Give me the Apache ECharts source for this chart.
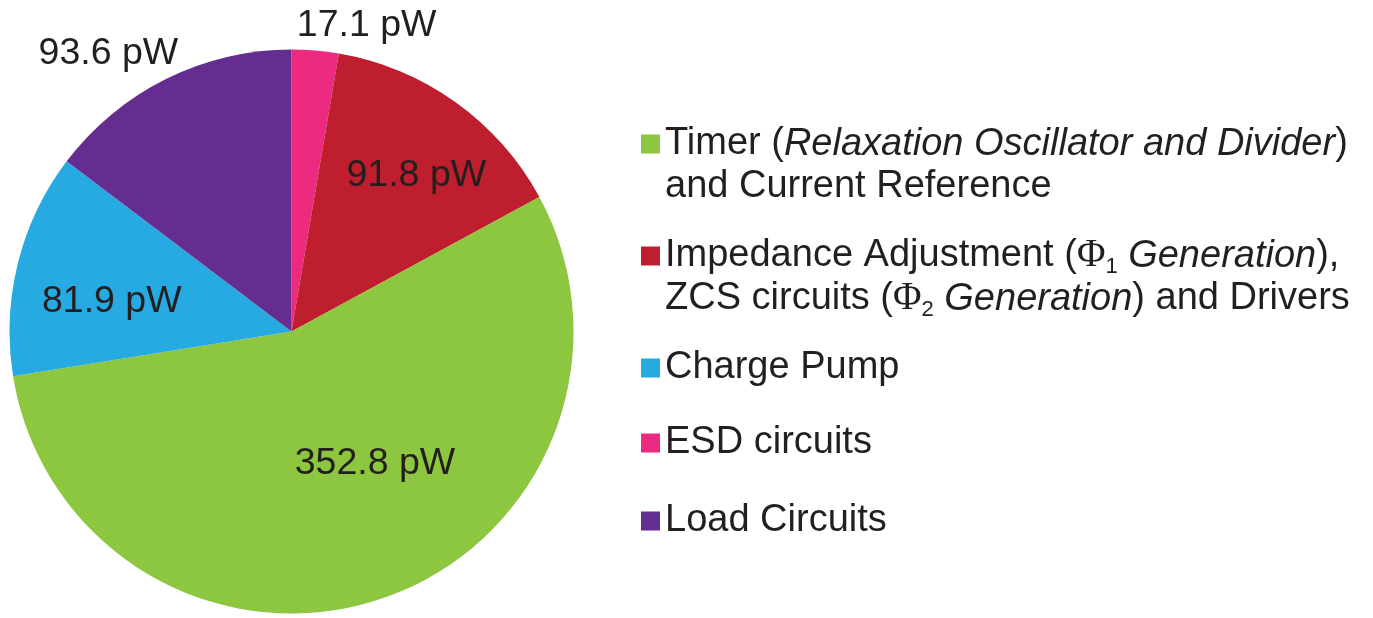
<!DOCTYPE html>
<html>
<head>
<meta charset="utf-8">
<script src="https://cdn.jsdelivr.net/npm/echarts@6/dist/echarts.min.js"></script>
<style>html,body{margin:0;padding:0;background:#ffffff}#chart{width:1373px;height:618px}</style>
</head>
<body>
<div id="chart"></div>
<script>
// ---- data ----
const sliceNames = ['ESD circuits', 'Impedance Adjustment', 'Timer', 'Charge Pump', 'Load Circuits'];
const sliceValues = [17.1, 91.8, 352.8, 81.9, 93.6];
const sliceUnit = 'pW';
const legendOrder = ['Timer', 'Impedance Adjustment', 'Charge Pump', 'ESD circuits', 'Load Circuits'];
const legendText = {
  'Timer': ['Timer ({i|Relaxation Oscillator and Divider})', 'and Current Reference'],
  'Impedance Adjustment': ['Impedance Adjustment ({phi|Φ}{sub|1} {i|Generation}),', 'ZCS circuits ({phi|Φ}{sub|2} {i|Generation}) and Drivers'],
  'Charge Pump': ['Charge Pump'],
  'ESD circuits': ['ESD circuits'],
  'Load Circuits': ['Load Circuits']
};

// ---- styles / layout ----
const sliceColors = ['#EC2A80', '#BE1E2D', '#8DC63F', '#27AAE1', '#662D91'];
const textColor = '#231F20';
const FONT = '"Liberation Sans", Arial, Helvetica, sans-serif';
const SERIF = '"Liberation Serif", "Times New Roman", serif';
const LH = 43;
const legendIconCenters = [144, 256, 368, 443, 521];
const labelShift = [[63, -162], [41, -39], [37, -4], [-40, 5], [-119, -149]];

const rich = {
  i: { fontFamily: FONT, fontSize: 38, fontStyle: 'italic', color: textColor, lineHeight: LH },
  phi: { fontFamily: SERIF, fontSize: 39, color: textColor, lineHeight: LH },
  sub: { fontFamily: FONT, fontSize: 22, color: textColor, lineHeight: 22, verticalAlign: 'bottom' }
};

const legends = legendOrder.map((name, k) => {
  const lines = legendText[name].length;
  return {
    data: [name],
    orient: 'vertical',
    left: 641,
    top: legendIconCenters[k] - (lines - 0.5) * LH,
    padding: 0,
    icon: 'rect',
    itemWidth: 19,
    itemHeight: 19,
    selectedMode: false,
    formatter: () => legendText[name].join('\n'),
    textStyle: {
      fontFamily: FONT, fontSize: 38, color: textColor, lineHeight: LH,
      padding: [(lines - 1) * LH, 0, 0, 0],
      rich: rich
    }
  };
});

const chart = echarts.init(document.getElementById('chart'), null, { renderer: 'canvas' });
chart.setOption({
  animation: false,
  backgroundColor: '#ffffff',
  color: sliceColors,
  legend: legends,
  series: [{
    type: 'pie',
    center: [291.5, 331.5],
    radius: 282,
    startAngle: 90,
    clockwise: true,
    avoidLabelOverlap: false,
    itemStyle: { borderWidth: 0 },
    emphasis: { disabled: true },
    label: {
      show: true,
      position: 'inside',
      formatter: (p) => p.value + ' ' + sliceUnit,
      fontFamily: FONT,
      fontSize: 37.5,
      color: textColor
    },
    labelLine: { show: false },
    labelLayout: (p) => ({ dx: labelShift[p.dataIndex][0], dy: labelShift[p.dataIndex][1] }),
    data: sliceNames.map((n, i) => ({ name: n, value: sliceValues[i] }))
  }]
});
</script>
</body>
</html>
